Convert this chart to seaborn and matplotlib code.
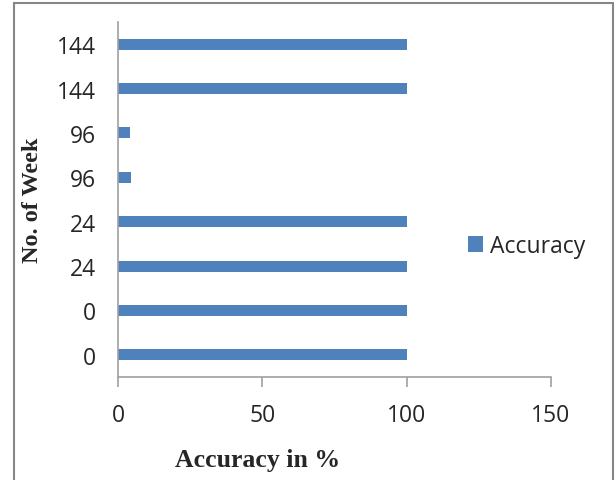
import matplotlib
matplotlib.use("Agg")
import matplotlib.pyplot as plt
from matplotlib.patches import Rectangle
import seaborn as sns
import pandas as pd

# Week labels (bottom to top) and accuracy values for each bar
weeks = ["0", "0", "24", "24", "96", "96", "144", "144"]
accuracy = [100, 100, 100, 100, 4.5, 4, 100, 100]
x_ticks = [0, 50, 100, 150]

df = pd.DataFrame({"slot": list(range(len(weeks))), "Accuracy": accuracy})

sns.set_style("white")
plt.rcParams["font.family"] = ["Open Sans", "DejaVu Sans"]

fig = plt.figure(figsize=(6.16, 4.81), dpi=100)
ax = fig.add_axes([118 / 616, 1 - 378 / 481, 433 / 616, 355 / 481])

bar_color = "#4f81bd"
sns.barplot(data=df, x="Accuracy", y="slot", orient="h", native_scale=True,
            width=0.25, color=bar_color, ax=ax, label="Accuracy",
            saturation=1, edgecolor="none")

tick_size = 16.5
ax.set_xlim(0, 150)
ax.set_ylim(-0.5, len(weeks) - 0.5)
ax.set_xticks(x_ticks)
ax.set_xticklabels([str(t) for t in x_ticks], fontsize=tick_size)
ax.set_yticks(range(len(weeks)))
ax.set_yticklabels(weeks, fontsize=tick_size)

spine_color = "#a0a0a0"
for side in ["top", "right"]:
    ax.spines[side].set_visible(False)
for side in ["left", "bottom"]:
    ax.spines[side].set_color(spine_color)
    ax.spines[side].set_linewidth(1.2)

ax.tick_params(axis="x", which="major", direction="out", length=7, width=1.2,
               color=spine_color, pad=12, bottom=True)
ax.tick_params(axis="y", length=0, pad=16)

ax.set_xlabel("")
ax.set_ylabel("")
fig.text(258 / 616, 1 - 461 / 481, "Accuracy in %", ha="center", va="center",
         fontsize=18.5, fontweight="bold", family="Liberation Serif")
fig.text(32 / 616, 1 - 200 / 481, "No. of Week", rotation=90, ha="center",
         va="center", fontsize=17.5, fontweight="bold", family="Liberation Serif")

leg = ax.legend(loc="center left", bbox_to_anchor=(0.808, 0.369), frameon=False,
                fontsize=tick_size, handlelength=0.65, handleheight=0.65,
                handletextpad=0.3, borderaxespad=0, borderpad=0)

# outer chart border
fig.patches.append(Rectangle((14 / 616, -0.01), (613 - 14) / 616, 1 - 4 / 481 + 0.01,
                             transform=fig.transFigure, fill=False,
                             edgecolor="#868686", linewidth=1.5))

fig.savefig("out.png", dpi=100)
